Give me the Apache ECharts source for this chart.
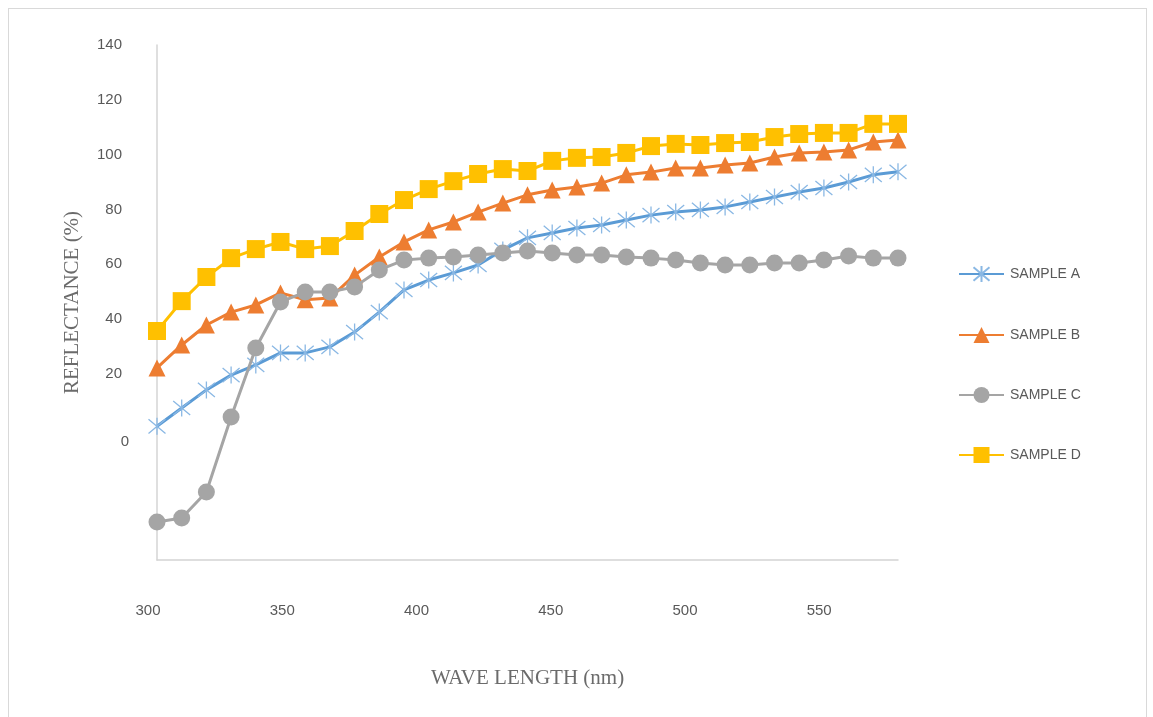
<!DOCTYPE html>
<html>
<head>
<meta charset="utf-8">
<title>Reflectance vs wave length</title>
<script src="https://cdn.jsdelivr.net/npm/echarts@6/dist/echarts.min.js"></script>
<style>
  html, body { margin: 0; padding: 0; background: #ffffff; }
  #wrap { position: relative; width: 1153px; height: 717px; overflow: hidden; }
  #frame { position: absolute; left: 8px; top: 8px; width: 1139px; height: 730px; border: 1px solid #d9d9d9; box-sizing: border-box; pointer-events: none; }
  #chart { position: absolute; left: 0; top: 0; width: 1153px; height: 717px; }
</style>
</head>
<body>
<div id="wrap">
  <div id="chart"></div>
  <div id="frame"></div>
</div>
<script>
// Wavelength of each measurement (nm)
const wavelengths = [300, 309.2, 318.4, 327.6, 336.8, 346, 355.2, 364.4, 373.6, 382.8,
  392, 401.2, 410.4, 419.6, 428.8, 438, 447.2, 456.4, 465.6, 474.8,
  484, 493.2, 502.4, 511.6, 520.8, 530, 539.2, 548.4, 557.6, 566.8, 576];

// Reflectance (%) per sample
const sampleA = [0.8, 7.5, 14.1, 19.5, 23.2, 27.6, 27.6, 29.8, 35.2, 42.5,
  50.6, 54.2, 56.8, 59.7, 65.2, 69.6, 71.4, 73.2, 74.3, 76.1,
  77.9, 79.0, 79.8, 80.9, 82.7, 84.5, 86.3, 87.8, 90.0, 92.6, 93.7];
const sampleB = [22.1, 30.5, 37.8, 42.5, 45.1, 49.5, 47.0, 47.6, 56.0, 62.6,
  68.1, 72.5, 75.4, 79.0, 82.3, 85.3, 87.1, 88.2, 89.6, 92.6,
  93.6, 95.1, 95.1, 96.2, 96.9, 99.1, 100.6, 100.9, 101.7, 104.6, 105.3];
const sampleC = [-34.1, -32.7, -23.2, 4.2, 29.4, 46.2, 49.8, 49.8, 51.7, 57.9,
  61.5, 62.2, 62.6, 63.3, 64.1, 64.8, 64.1, 63.3, 63.3, 62.6,
  62.2, 61.5, 60.4, 59.7, 59.7, 60.4, 60.4, 61.5, 63.0, 62.2, 62.2];
const sampleD = [35.6, 46.5, 55.3, 62.2, 65.5, 68.1, 65.5, 66.6, 72.1, 78.3,
  83.4, 87.4, 90.3, 92.9, 94.7, 94.0, 97.7, 98.8, 99.1, 100.6,
  103.1, 103.9, 103.5, 104.2, 104.6, 106.4, 107.5, 107.9, 107.9, 111.2, 111.2];

const seriesNames = ['SAMPLE A', 'SAMPLE B', 'SAMPLE C', 'SAMPLE D'];
const yTickValues = [0, 20, 40, 60, 80, 100, 120, 140];
const xTickValues = [300, 350, 400, 450, 500, 550];

// asterisk marker: two diagonals and a vertical stroke
const starPath = 'path://M0,0L20,20M20,0L0,20M10,-2L10,22';

function pairs(ys) {
  return wavelengths.map((x, i) => [x, ys[i]]);
}

const labelFont = 'Liberation Sans, Arial, sans-serif';
const titleFont = 'Liberation Serif, Times New Roman, serif';

const chart = echarts.init(document.getElementById('chart'), null, { renderer: 'canvas' });

chart.setOption({
  backgroundColor: '#ffffff',
  animation: false,
  grid: { left: 157, right: 255, top: 45, bottom: 157, containLabel: false },
  legend: {
    orient: 'vertical',
    left: 958,
    top: 265,
    padding: 0,
    itemWidth: 45,
    itemHeight: 20,
    itemGap: 44,
    textStyle: { fontFamily: labelFont, fontSize: 14, color: '#595959', padding: [0, 0, 0, 1] },
    data: seriesNames
  },
  xAxis: {
    type: 'value',
    min: 300,
    max: 576,
    name: 'WAVE LENGTH (nm)',
    nameLocation: 'middle',
    nameGap: 108,
    nameTextStyle: { fontFamily: titleFont, fontSize: 21, color: '#6b6b6b' },
    axisLine: { show: true, onZero: false, lineStyle: { color: '#d4d4d4', width: 1.5 } },
    axisTick: { show: false },
    splitLine: { show: false },
    axisLabel: {
      customValues: xTickValues,
      margin: 43,
      formatter: v => '{a|' + v + '}',
      rich: { a: { fontFamily: labelFont, fontSize: 15, color: '#595959', padding: [0, 18, 0, 0] } }
    }
  },
  yAxis: {
    type: 'value',
    min: -48,
    max: 140,
    name: 'REFLECTANCE (%)',
    nameLocation: 'middle',
    nameGap: 74,
    nameTextStyle: { fontFamily: titleFont, fontSize: 21, color: '#6b6b6b' },
    axisLine: { show: true, onZero: false, lineStyle: { color: '#d4d4d4', width: 1.5 } },
    axisTick: { show: false },
    splitLine: { show: false },
    axisLabel: {
      customValues: yTickValues,
      margin: 28,
      formatter: v => (v === 0 ? '{z|0}' : '{n|' + v + '}'),
      rich: {
        n: { fontFamily: labelFont, fontSize: 15, color: '#595959', padding: [0, 7, 0, 0] },
        z: { fontFamily: labelFont, fontSize: 15, color: '#595959', padding: [26, 0, 0, 0] }
      }
    }
  },
  series: [
    {
      name: seriesNames[0], type: 'line', data: pairs(sampleA),
      symbol: starPath, symbolSize: 17,
      lineStyle: { color: '#5B9BD5', width: 3 },
      itemStyle: { color: '#9DC3E6', borderColor: '#8AB8E4', borderWidth: 1.3 },
      z: 2
    },
    {
      name: seriesNames[1], type: 'line', data: pairs(sampleB),
      symbol: 'triangle', symbolSize: 17,
      lineStyle: { color: '#ED7D31', width: 3 },
      itemStyle: { color: '#ED7D31' },
      z: 3
    },
    {
      name: seriesNames[2], type: 'line', data: pairs(sampleC),
      symbol: 'circle', symbolSize: 17,
      lineStyle: { color: '#A5A5A5', width: 3 },
      itemStyle: { color: '#A5A5A5' },
      z: 4
    },
    {
      name: seriesNames[3], type: 'line', data: pairs(sampleD),
      symbol: 'rect', symbolSize: 18,
      lineStyle: { color: '#FFC000', width: 3 },
      itemStyle: { color: '#FFC000' },
      z: 5
    }
  ]
});
</script>
</body>
</html>
